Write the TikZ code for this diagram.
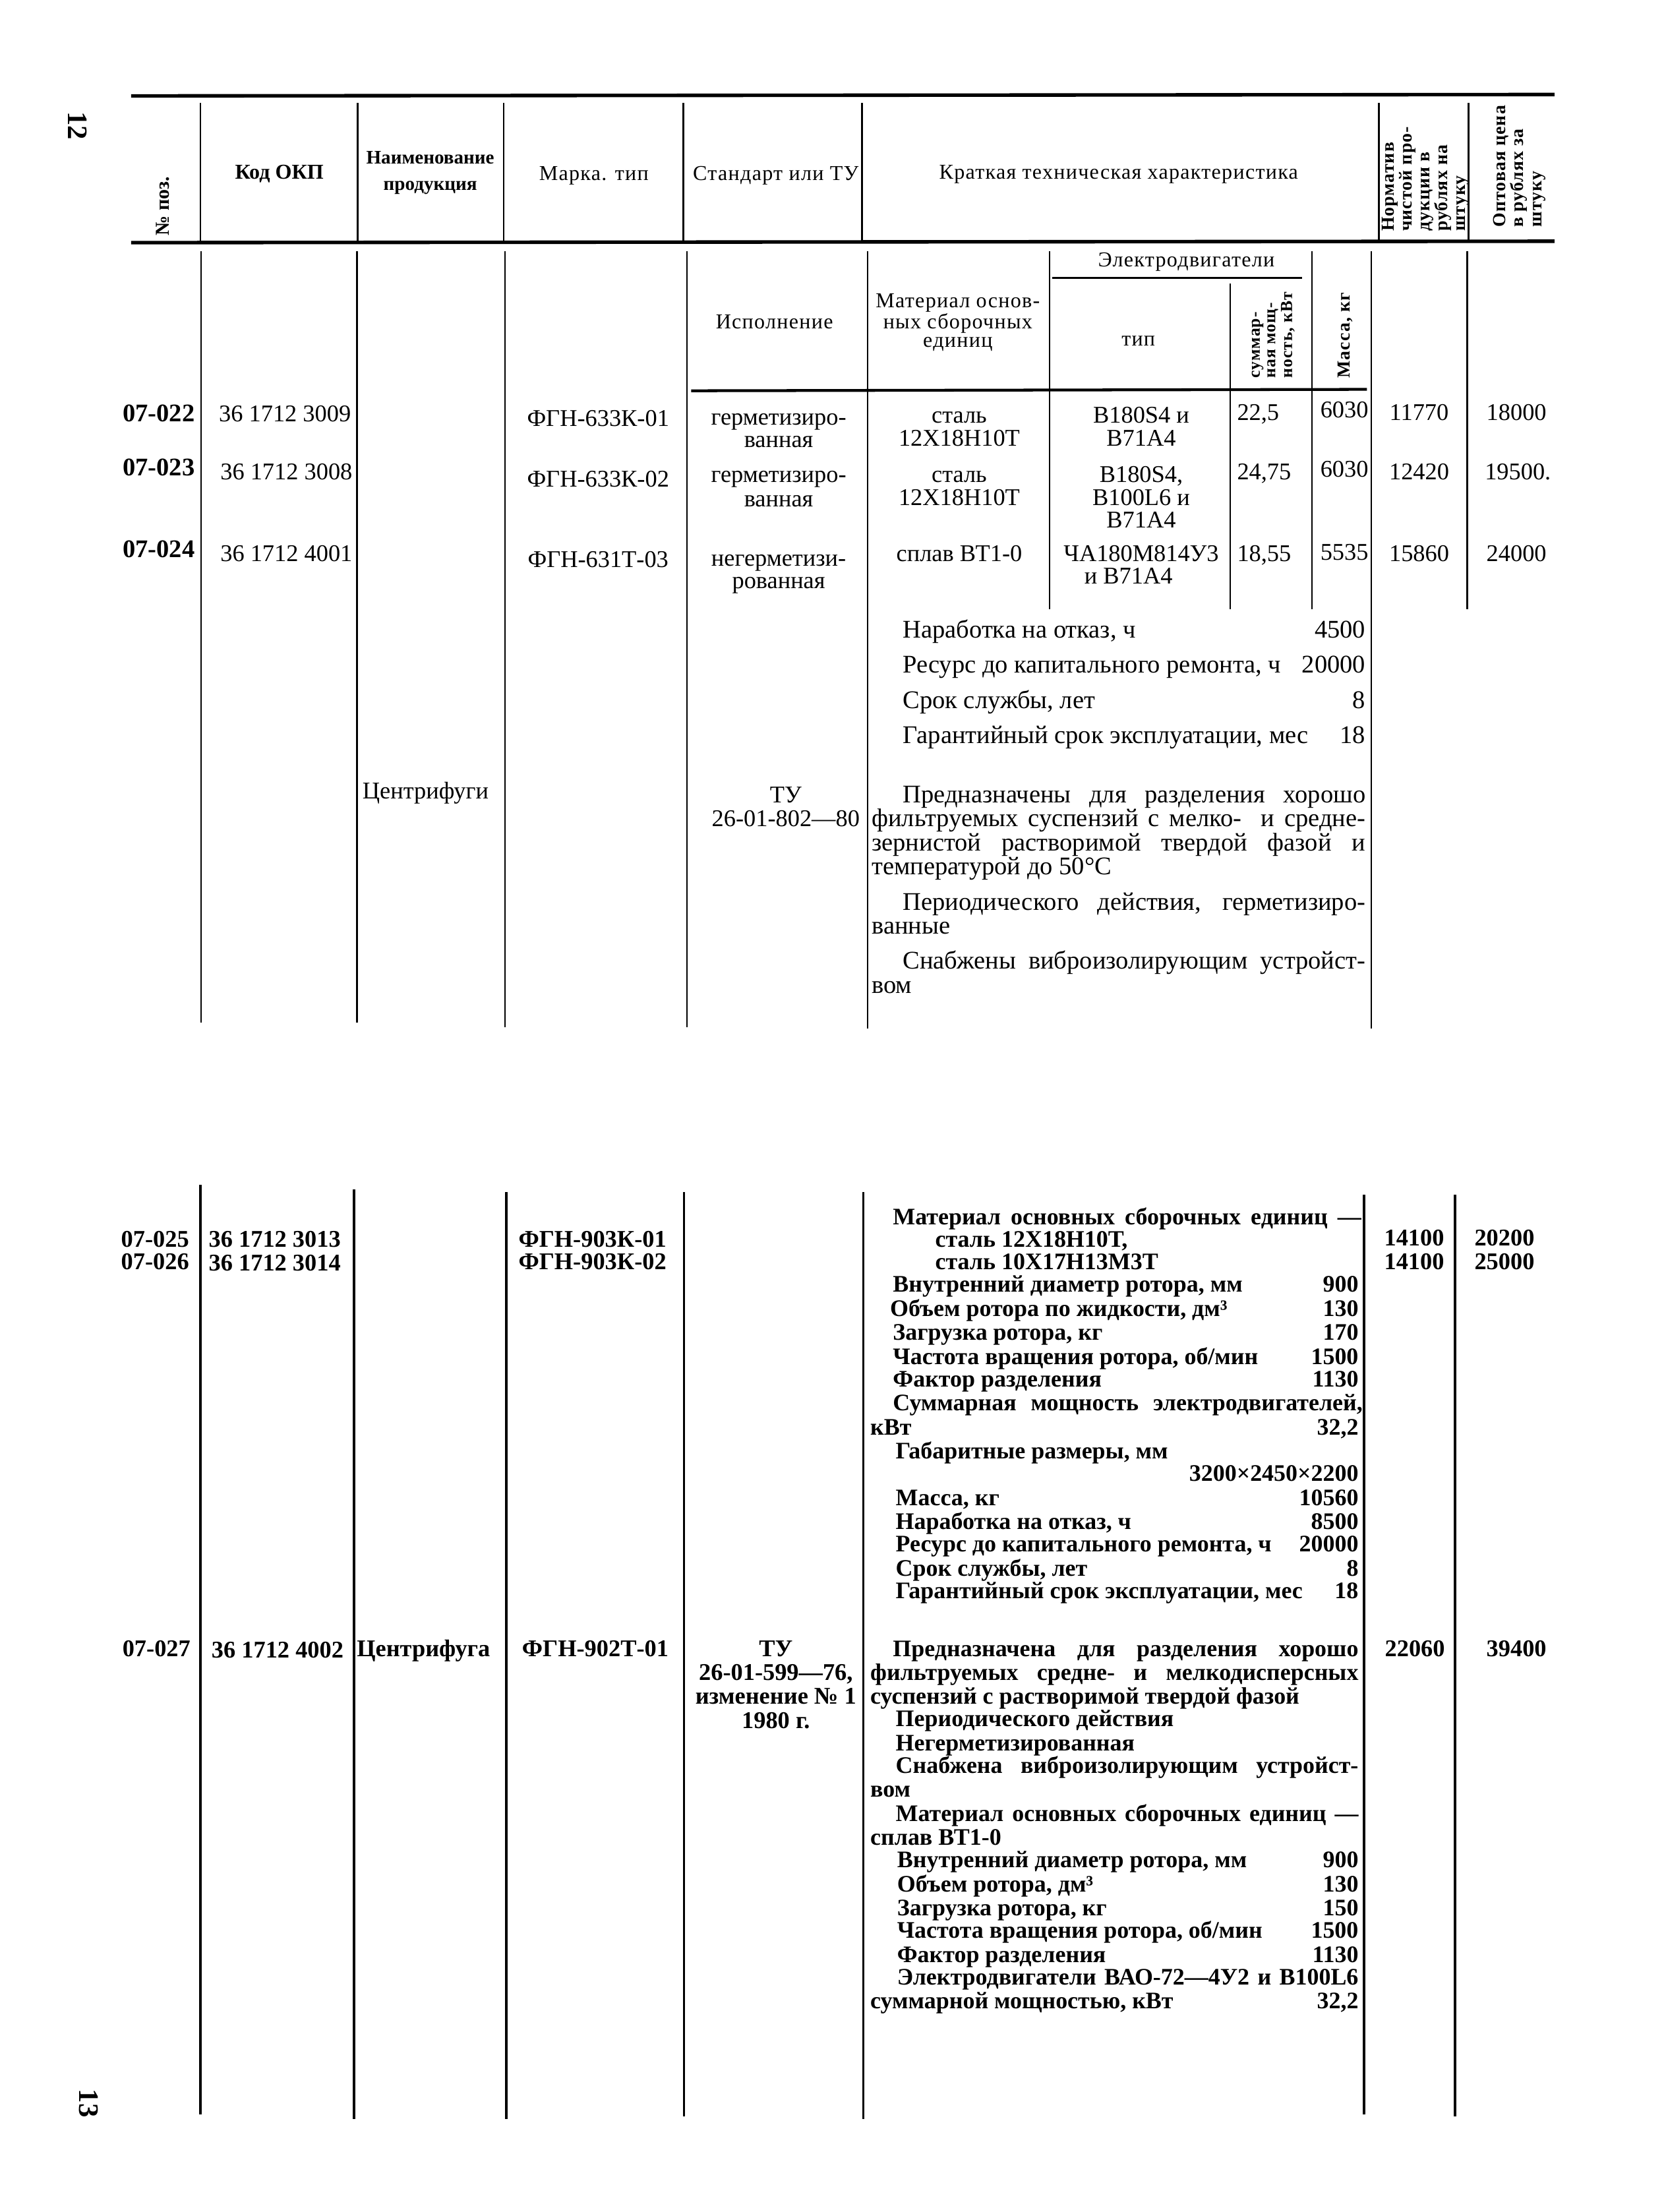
\documentclass[tikz,border=0pt]{standalone}
\usepackage{fontspec}
\setmainfont{Liberation Serif}
\newfontfamily\hdrf{Liberation Serif}[LetterSpace=4]
\newfontfamily\rotf{Liberation Serif}[LetterSpace=4]
\newcommand\fs[1]{\fontsize{#1}{#1}\selectfont}
\newcount\nidx
\newcommand\tx[4][]{\global\advance\nidx by 1\relax\node[tb,#1] (n\the\nidx) at (#2,#3) {#4};}
\newcommand\jl[5][]{\global\advance\nidx by 1\relax\node[tb,anchor=base west,#1] (n\the\nidx) at (#2,#3) {\makebox[\dimexpr #4pt/2\relax][s]{#5}};}
\newcommand\lv[6][]{\global\advance\nidx by 1\relax\node[tb,anchor=base west,#1] (n\the\nidx) at (#2,#3) {\hbox to \dimexpr #4pt/2\relax{#5\hfill #6}};}
\tikzset{
 tb/.style={inner sep=0pt,outer sep=0pt,anchor=base},
 rule/.style={line width=1.25pt},
 vl/.style={line width=0.6pt},
 vlb/.style={line width=0.8pt},
 uptext/.style={font=\fs{9}},
 rowtext/.style={font=\fs{8.5}},
 posnum/.style={font=\bfseries\fs{9}},
 lowtext/.style={font=\bfseries\fs{8.4}},
 lrowtext/.style={font=\bfseries\fs{8.5}},
 hdtext/.style={font=\hdrf\fs{7.5}},
 hdbold/.style={font=\bfseries\fs{7.5}},
 rottext/.style={rotate=90,anchor=base west,font=\rotf\bfseries\fs{6.5}},
 rotsmall/.style={rotate=90,anchor=base west,font=\rotf\bfseries\fs{6}},
}
\begin{document}
\begin{tikzpicture}[x=0.5pt,y=-0.5pt]
\fill[white] (0,0) rectangle (1181,1568);
\useasboundingbox (0,0) rectangle (1181,1568);
% page numbers
\tx[anchor=center,rotate=-90,font=\bfseries\fs{10}]{55}{89}{12}
\tx[anchor=center,rotate=-90,font=\bfseries\fs{10}]{63}{1491}{13}
% ---------- header rules ----------
\draw[rule] (93,68) -- (1102,67);
\draw[rule] (93,172) -- (1102,171);
\foreach \x in {142,253.5,357,484.5,611,977.5,1041} \draw[vl] (\x,73) -- (\x,171);
% header texts
\tx[rotate=90,anchor=base west,font=\bfseries\fs{7}]{120}{167}{№ поз.}
\tx[hdbold]{198}{127}{Код ОКП}
\tx[font=\bfseries\fs{6.8}]{305}{116}{Наименование}
\tx[font=\bfseries\fs{6.8}]{305}{135}{продукция}
\tx[hdtext]{421}{128}{Марка. тип}
\tx[hdtext]{550}{128}{Стандарт или ТУ}
\tx[hdtext]{793}{127}{Краткая техническая характеристика}
\tx[rottext]{988}{164}{Норматив}
\tx[rottext]{1001}{164}{чистой про-}
\tx[rottext]{1013.5}{164}{дукции в}
\tx[rottext]{1026}{164}{рублях на}
\tx[rottext]{1038.5}{164}{штуку}
\tx[rottext]{1067}{161}{Оптовая цена}
\tx[rottext]{1080}{161}{в рублях за}
\tx[rottext]{1093}{161}{штуку}
% ---------- upper body lines ----------
\draw[vl] (142.5,178) -- (142.5,725);
\draw[vl] (253,178) -- (253,725);
\draw[vl] (358,178) -- (358,728);
\draw[vl] (487,178) -- (487,728);
\draw[vl] (615,178) -- (615,729);
\draw[vl] (744,178) -- (744,432);
\draw[vl] (872,201) -- (872,432);
\draw[vl] (930,178) -- (930,432);
\draw[vl] (972,178) -- (972,729);
\draw[vl] (1040,178) -- (1040,432);
\draw[line width=0.8pt] (746,197) -- (923,197);
\draw[line width=1pt] (490,277) -- (969,276);
% sub-header
\tx[hdtext]{841}{189}{Электродвигатели}
\tx[hdtext]{549}{233}{Исполнение}
\tx[hdtext]{679}{218}{Материал основ-}
\tx[hdtext]{679}{233}{ных сборочных}
\tx[hdtext]{679}{246}{единиц}
\tx[hdtext]{807}{245}{тип}
\tx[rotsmall]{893}{268}{суммар-}
\tx[rotsmall]{904}{268}{ная мощ-}
\tx[rotsmall]{916}{268}{ность, кВт}
\tx[rottext]{957}{268}{Масса, кг}
% ---------- upper rows ----------
\tx[posnum,anchor=base east]{138}{299}{07-022}
\tx[rowtext]{202}{299}{36 1712 3009}
\tx[rowtext]{424}{302}{ФГН-633К-01}
\tx[rowtext]{552}{301}{герметизиро-}
\tx[rowtext]{552}{317}{ванная}
\tx[rowtext]{680}{300}{сталь}
\tx[rowtext]{680}{316}{12Х18Н10Т}
\tx[rowtext]{809}{300}{В180S4 и}
\tx[rowtext]{809}{316}{В71А4}
\tx[rowtext,anchor=base west]{877}{298}{22,5}
\tx[rowtext,anchor=base east]{970}{296}{6030}
\tx[rowtext]{1006}{298}{11770}
\tx[rowtext]{1075}{298}{18000}
%
\tx[posnum,anchor=base east]{138}{337}{07-023}
\tx[rowtext]{203}{340}{36 1712 3008}
\tx[rowtext]{424}{345}{ФГН-633К-02}
\tx[rowtext]{552}{342}{герметизиро-}
\tx[rowtext]{552}{359}{ванная}
\tx[rowtext]{680}{342}{сталь}
\tx[rowtext]{680}{358}{12Х18Н10Т}
\tx[rowtext]{809}{342}{В180S4,}
\tx[rowtext]{809}{358}{В100L6 и}
\tx[rowtext]{809}{374}{В71А4}
\tx[rowtext,anchor=base west]{877}{340}{24,75}
\tx[rowtext,anchor=base east]{970}{338}{6030}
\tx[rowtext]{1006}{340}{12420}
\tx[rowtext]{1076}{340}{19500.}
%
\tx[posnum,anchor=base east]{138}{395}{07-024}
\tx[rowtext]{203}{398}{36 1712 4001}
\tx[rowtext]{424}{402}{ФГН-631Т-03}
\tx[rowtext]{552}{401}{негерметизи-}
\tx[rowtext]{552}{417}{рованная}
\tx[rowtext]{680}{398}{сплав ВТ1-0}
\tx[rowtext]{809}{398}{ЧА180М814У3}
\tx[rowtext]{800}{414}{и В71А4}
\tx[rowtext,anchor=base west]{877}{398}{18,55}
\tx[rowtext,anchor=base east]{970}{397}{5535}
\tx[rowtext]{1006}{398}{15860}
\tx[rowtext]{1075}{398}{24000}
% upper text block
\lv[uptext]{640}{452}{328}{Наработка на отказ, ч}{4500}
\lv[uptext]{640}{477}{328}{Ресурс до капитального ремонта, ч}{20000}
\lv[uptext]{640}{502}{328}{Срок службы, лет}{8}
\lv[uptext]{640}{527}{328}{Гарантийный срок эксплуатации, мес}{18}
\jl[uptext]{640}{569}{328}{Предназначены для разделения хорошо}
\jl[uptext]{618}{586}{350}{фильтруемых суспензий с мелко- \ и средне-}
\jl[uptext]{618}{603}{350}{зернистой растворимой твердой фазой и}
\tx[uptext,anchor=base west]{618}{620}{температурой до 50°С}
\jl[uptext]{640}{645}{328}{Периодического действия, герметизиро-}
\tx[uptext,anchor=base west]{618}{662}{ванные}
\jl[uptext]{640}{687}{328}{Снабжены виброизолирующим устройст-}
\tx[uptext,anchor=base west]{618}{704}{вом}
\tx[rowtext,anchor=base west]{257}{566}{Центрифуги}
\tx[rowtext]{557}{569}{ТУ}
\tx[rowtext]{557}{586}{26-01-802—80}
% ---------- lower section lines ----------
\draw[vlb] (142,840) -- (142,1499);
\draw[vlb] (251,843) -- (251,1502);
\draw[vlb] (359,845) -- (359,1502);
\draw[vlb] (485,845) -- (485,1500);
\draw[vlb] (612,845) -- (612,1502);
\draw[vlb] (967,847) -- (967,1499);
\draw[vlb] (1031.5,847) -- (1031.5,1500);
% lower rows
\tx[lrowtext,anchor=base east]{134}{884}{07-025}
\tx[lrowtext,anchor=base east]{134}{900}{07-026}
\tx[lrowtext,anchor=base west]{148}{884}{36 1712 3013}
\tx[lrowtext,anchor=base west]{148}{901}{36 1712 3014}
\tx[lrowtext]{420}{884}{ФГН-903К-01}
\tx[lrowtext]{420}{900}{ФГН-903К-02}
\tx[lrowtext]{1002.5}{883}{14100}
\tx[lrowtext]{1002.5}{900}{14100}
\tx[lrowtext]{1066.5}{883}{20200}
\tx[lrowtext]{1066.5}{900}{25000}
\tx[lrowtext,anchor=base east]{135}{1174}{07-027}
\tx[lrowtext,anchor=base west]{150}{1175}{36 1712 4002}
\tx[lrowtext,anchor=base west]{253}{1174}{Центрифуга}
\tx[lrowtext]{422}{1174}{ФГН-902Т-01}
\tx[lrowtext]{550}{1174}{ТУ}
\tx[lrowtext]{550}{1191}{26-01-599—76,}
\tx[lrowtext]{550}{1208}{изменение № 1}
\tx[lrowtext]{550}{1225}{1980 г.}
\tx[lrowtext]{1003}{1174}{22060}
\tx[lrowtext]{1075}{1174}{39400}
% lower text block
\jl[lowtext]{633}{868}{332}{Материал основных сборочных единиц —}
\tx[lowtext,anchor=base west]{663}{884}{сталь 12Х18Н10Т,}
\tx[lowtext,anchor=base west]{663}{900}{сталь 10Х17Н13М3Т}
\lv[lowtext]{633}{916}{330}{Внутренний диаметр ротора, мм}{900}
\lv[lowtext]{631}{933}{332}{Объем ротора по жидкости, дм³}{130}
\lv[lowtext]{633}{950}{330}{Загрузка ротора, кг}{170}
\lv[lowtext]{633}{967}{330}{Частота вращения ротора, об/мин}{1500}
\lv[lowtext]{633}{983}{330}{Фактор разделения}{1130}
\jl[lowtext]{633}{1000}{333}{Суммарная мощность электродвигателей,}
\lv[lowtext]{617}{1017}{346}{кВт}{32,2}
\tx[lowtext,anchor=base west]{635}{1034}{Габаритные размеры, мм}
\tx[lowtext,anchor=base east]{963}{1050}{3200×2450×2200}
\lv[lowtext]{635}{1067}{328}{Масса, кг}{10560}
\lv[lowtext]{635}{1084}{328}{Наработка на отказ, ч}{8500}
\lv[lowtext]{635}{1100}{328}{Ресурс до капитального ремонта, ч}{20000}
\lv[lowtext]{635}{1117}{328}{Срок службы, лет}{8}
\lv[lowtext]{635}{1133}{328}{Гарантийный срок эксплуатации, мес}{18}
\jl[lowtext]{633}{1174}{330}{Предназначена для разделения хорошо}
\jl[lowtext]{617}{1191}{346}{фильтруемых средне- и мелкодисперсных}
\tx[lowtext,anchor=base west]{617}{1208}{суспензий с растворимой твердой фазой}
\tx[lowtext,anchor=base west]{635}{1224}{Периодического действия}
\tx[lowtext,anchor=base west]{635}{1241}{Негерметизированная}
\jl[lowtext]{635}{1257}{328}{Снабжена виброизолирующим устройст-}
\tx[lowtext,anchor=base west]{617}{1274}{вом}
\jl[lowtext]{635}{1291}{328}{Материал основных сборочных единиц —}
\tx[lowtext,anchor=base west]{617}{1308}{сплав ВТ1-0}
\lv[lowtext]{636}{1324}{327}{Внутренний диаметр ротора, мм}{900}
\lv[lowtext]{636}{1341}{327}{Объем ротора, дм³}{130}
\lv[lowtext]{636}{1358}{327}{Загрузка ротора, кг}{150}
\lv[lowtext]{636}{1374}{327}{Частота вращения ротора, об/мин}{1500}
\lv[lowtext]{636}{1391}{327}{Фактор разделения}{1130}
\jl[lowtext]{636}{1407}{327}{Электродвигатели ВАО-72—4У2 и В100L6}
\lv[lowtext]{617}{1424}{346}{суммарной мощностью, кВт}{32,2}
\end{tikzpicture}
\end{document}
